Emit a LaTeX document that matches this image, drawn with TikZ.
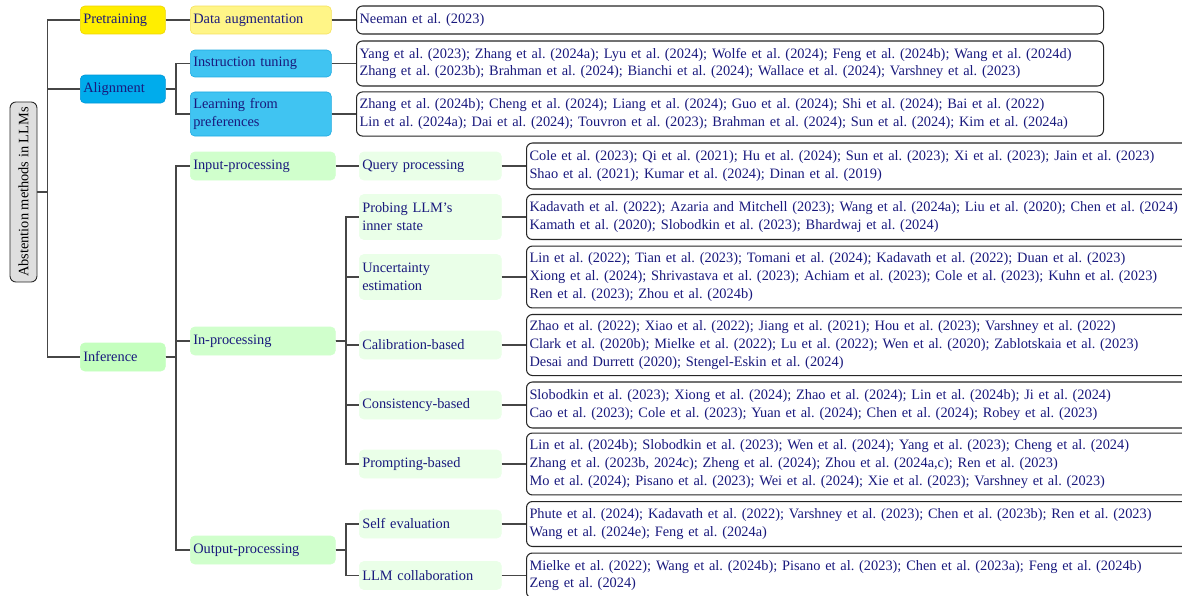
\documentclass[tikz,border=0pt]{standalone}
\usepackage{fontspec}
\setmainfont{Liberation Serif}
\usepackage{graphicx}
\definecolor{txt}{RGB}{25,25,125}
\definecolor{connc}{RGB}{70,70,70}
\definecolor{yelA}{RGB}{255,238,0}
\definecolor{yelAd}{RGB}{238,212,0}
\definecolor{yelB}{RGB}{255,245,135}
\definecolor{yelBd}{RGB}{245,225,90}
\definecolor{cyaA}{RGB}{0,172,236}
\definecolor{cyaAd}{RGB}{0,150,215}
\definecolor{cyaB}{RGB}{64,196,242}
\definecolor{cyaBd}{RGB}{30,170,225}
\definecolor{grnA}{RGB}{196,255,190}
\definecolor{grnB}{RGB}{208,255,204}
\definecolor{grnC}{RGB}{234,255,232}
\begin{document}
\frenchspacing
\begin{tikzpicture}[x=0.6716pt,y=-0.6716pt,
  base/.style={anchor=west, font=\fontsize{9.65}{12}\selectfont\frenchspacing, text=txt, align=left,
    inner xsep=2pt, inner ysep=1pt, rounded corners=3pt, line width=0.4pt},
  rootbox/.style={draw=black!85, fill=gray!25, rounded corners=4pt, line width=0.6pt,
    minimum width=18.1pt, minimum height=120.9pt, inner sep=0pt,
    font=\fontsize{9.65}{12}\selectfont, text=black},
  lone/.style={base, text width=53.1pt, minimum height=18.8pt},
  ltwoa/.style={base, text width=90.7pt, minimum height=18.8pt},
  ltwob/.style={base, text width=93.4pt, minimum height=18.8pt, fill=grnB, draw=grnB},
  lthree/.style={base, text width=91.4pt, minimum height=18.8pt, fill=grnC, draw=grnC},
  leaftop/.style={base, text width=497.7pt, draw=black!85, fill=white, line width=0.7pt, rounded corners=4pt},
  leaflow/.style={base, text width=445pt, draw=black!85, fill=white, line width=0.7pt, rounded corners=4pt},
  conn/.style={draw=connc, line width=1.2pt}
]
\useasboundingbox (0,0) rectangle (1182,596);

% root
\node[rootbox] (root) at (23.5,192) {\rotatebox{90}{Abstention methods in LLMs}};

% level 1
\node[lone, fill=yelA, draw=yelAd] (pre) at (80,20) {Pretraining};
\node[lone, fill=cyaA, draw=cyaAd] (ali) at (80,89) {Alignment};
\node[lone, fill=grnA, draw=grnA] (inf) at (80,357) {Inference};

% level 2
\node[ltwoa, fill=yelB, draw=yelBd] (dat) at (190,20) {Data augmentation};
\node[ltwoa, fill=cyaB, draw=cyaBd, minimum height=18.1pt] (ins) at (190,63.5) {Instruction tuning};
\node[ltwoa, fill=cyaB, draw=cyaBd, minimum height=29.6pt] (lfp) at (190,114) {Learning from\\preferences};
\node[ltwob] (inp) at (190,166) {Input-processing};
\node[ltwob] (inpr) at (190,341) {In-processing};
\node[ltwob] (outp) at (190,550) {Output-processing};

% level 3
\node[lthree] (qp) at (359,166) {Query processing};
\node[lthree, minimum height=30.2pt] (prob) at (359,217) {Probing LLM's\\inner state};
\node[lthree, minimum height=30.2pt] (unc) at (359,277) {Uncertainty\\estimation};
\node[lthree] (cal) at (359,345) {Calibration-based};
\node[lthree] (cons) at (359,405) {Consistency-based};
\node[lthree] (prom) at (359,464) {Prompting-based};
\node[lthree] (self) at (359,524) {Self evaluation};
\node[lthree] (llmc) at (359,575.5) {LLM collaboration};

% leaves (top)
\node[leaftop, minimum height=18.8pt] (nee) at (356,20) {Neeman et al. (2023)};
\node[leaftop, minimum height=30.2pt] (insl) at (356,63.5) {Yang et al. (2023); Zhang et al. (2024a); Lyu et al. (2024); Wolfe et al. (2024); Feng et al. (2024b); Wang et al. (2024d)\\Zhang et al. (2023b); Brahman et al. (2024); Bianchi et al. (2024); Wallace et al. (2024); Varshney et al. (2023)};
\node[leaftop, minimum height=29.6pt] (lfpl) at (356,114) {Zhang et al. (2024b); Cheng et al. (2024); Liang et al. (2024); Guo et al. (2024); Shi et al. (2024); Bai et al. (2022)\\Lin et al. (2024a); Dai et al. (2024); Touvron et al. (2023); Brahman et al. (2024); Sun et al. (2024); Kim et al. (2024a)};

% leaves (inference)
\node[leaflow, minimum height=30.9pt] (qpl) at (526,166) {Cole et al. (2023); Qi et al. (2021); Hu et al. (2024); Sun et al. (2023); Xi et al. (2023); Jain et al. (2023)\\Shao et al. (2021); Kumar et al. (2024); Dinan et al. (2019)};
\node[leaflow, minimum height=30.2pt] (probl) at (526,217) {Kadavath et al. (2022); Azaria and Mitchell (2023); Wang et al. (2024a); Liu et al. (2020); Chen et al. (2024)\\Kamath et al. (2020); Slobodkin et al. (2023); Bhardwaj et al. (2024)};
\node[leaflow, minimum height=41.6pt] (uncl) at (526,277) {Lin et al. (2022); Tian et al. (2023); Tomani et al. (2024); Kadavath et al. (2022); Duan et al. (2023)\\Xiong et al. (2024); Shrivastava et al. (2023); Achiam et al. (2023); Cole et al. (2023); Kuhn et al. (2023)\\Ren et al. (2023); Zhou et al. (2024b)};
\node[leaflow, minimum height=41.0pt] (call) at (526,345) {Zhao et al. (2022); Xiao et al. (2022); Jiang et al. (2021); Hou et al. (2023); Varshney et al. (2022)\\Clark et al. (2020b); Mielke et al. (2022); Lu et al. (2022); Wen et al. (2020); Zablotskaia et al. (2023)\\Desai and Durrett (2020); Stengel-Eskin et al. (2024)};
\node[leaflow, minimum height=30.9pt] (consl) at (526,405) {Slobodkin et al. (2023); Xiong et al. (2024); Zhao et al. (2024); Lin et al. (2024b); Ji et al. (2024)\\Cao et al. (2023); Cole et al. (2023); Yuan et al. (2024); Chen et al. (2024); Robey et al. (2023)};
\node[leaflow, minimum height=41.6pt] (proml) at (526,464) {Lin et al. (2024b); Slobodkin et al. (2023); Wen et al. (2024); Yang et al. (2023); Cheng et al. (2024)\\Zhang et al. (2023b, 2024c); Zheng et al. (2024); Zhou et al. (2024a,c); Ren et al. (2023)\\Mo et al. (2024); Pisano et al. (2023); Wei et al. (2024); Xie et al. (2023); Varshney et al. (2023)};
\node[leaflow, minimum height=30.2pt] (selfl) at (526,524) {Phute et al. (2024); Kadavath et al. (2022); Varshney et al. (2023); Chen et al. (2023b); Ren et al. (2023)\\Wang et al. (2024e); Feng et al. (2024a)};
\node[leaflow, minimum height=30.2pt] (llml) at (526,575.5) {Mielke et al. (2022); Wang et al. (2024b); Pisano et al. (2023); Chen et al. (2023a); Feng et al. (2024b)\\Zeng et al. (2024)};

% connectors
\draw[conn] (root.east) -- ++(10,0) |- (pre.west);
\draw[conn] (root.east) -- ++(10,0) |- (ali.west);
\draw[conn] (root.east) -- ++(10,0) |- (inf.west);

\draw[conn] (pre.east) -- (dat.west);
\draw[conn] (ali.east) -- ++(10,0) |- (ins.west);
\draw[conn] (ali.east) -- ++(10,0) |- (lfp.west);
\draw[conn] (inf.east) -- ++(10,0) |- (inp.west);
\draw[conn] (inf.east) -- ++(10,0) |- (inpr.west);
\draw[conn] (inf.east) -- ++(10,0) |- (outp.west);

\draw[conn] (inp.east) -- (qp.west);
\foreach \c in {prob,unc,cal,cons,prom}
  \draw[conn] (inpr.east) -- ++(10,0) |- (\c.west);
\draw[conn] (outp.east) -- ++(10,0) |- (self.west);
\draw[conn] (outp.east) -- ++(10,0) |- (llmc.west);

\draw[conn] (dat.east) -- (nee.west);
\draw[conn] (ins.east) -- (insl.west);
\draw[conn] (lfp.east) -- (lfpl.west);
\draw[conn] (qp.east) -- (qpl.west);
\draw[conn] (prob.east) -- (probl.west);
\draw[conn] (unc.east) -- (uncl.west);
\draw[conn] (cal.east) -- (call.west);
\draw[conn] (cons.east) -- (consl.west);
\draw[conn] (prom.east) -- (proml.west);
\draw[conn] (self.east) -- (selfl.west);
\draw[conn] (llmc.east) -- (llml.west);
\end{tikzpicture}
\end{document}
